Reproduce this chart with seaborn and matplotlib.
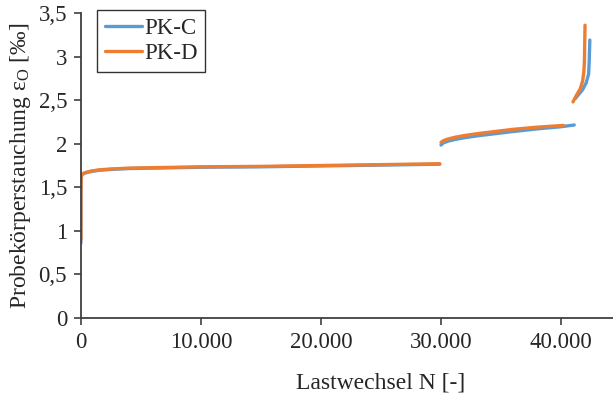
import numpy as np
import pandas as pd
import matplotlib
matplotlib.use("Agg")
import matplotlib.pyplot as plt
import seaborn as sns
from matplotlib.ticker import FuncFormatter

# PK-C, three test stages
c1_n = [0, 0, 20, 50, 100, 200, 400, 800, 1500, 2500, 4000, 6000, 10000, 15000, 20000, 25000, 29900]
c1_eps = [0.86, 1.40, 1.60, 1.63, 1.645, 1.655, 1.665, 1.68, 1.695, 1.705, 1.715, 1.72, 1.73, 1.735, 1.745, 1.755, 1.765]
c2_n = [30000, 30200, 30600, 31200, 32000, 33000, 34500, 36000, 38000, 40000, 41100]
c2_eps = [1.985, 2.01, 2.03, 2.05, 2.07, 2.09, 2.115, 2.14, 2.17, 2.195, 2.215]
c3_n = [41200, 41500, 41800, 42100, 42300, 42350, 42400]
c3_eps = [2.52, 2.57, 2.62, 2.70, 2.80, 2.95, 3.19]

# PK-D
d1_n = [0, 0, 20, 50, 100, 200, 400, 800, 1500, 2500, 4000, 6000, 10000, 15000, 20000, 25000, 29900]
d1_eps = [0.90, 1.42, 1.61, 1.635, 1.65, 1.66, 1.67, 1.685, 1.70, 1.71, 1.72, 1.725, 1.735, 1.74, 1.75, 1.76, 1.77]
d2_n = [30000, 30200, 30600, 31200, 32000, 33000, 34500, 36000, 38000, 40200]
d2_eps = [2.015, 2.035, 2.055, 2.075, 2.095, 2.115, 2.14, 2.165, 2.19, 2.21]
d3_n = [41000, 41300, 41600, 41800, 41900, 41950, 42000]
d3_eps = [2.48, 2.56, 2.63, 2.72, 2.82, 2.95, 3.36]

x_ticks = [0, 10000, 20000, 30000, 40000]
y_ticks = [0, 0.5, 1, 1.5, 2, 2.5, 3, 3.5]

# build one long table, one "stufe" per separate line piece
frames = []
for probe, parts in [("PK-C", [(c1_n, c1_eps), (c2_n, c2_eps), (c3_n, c3_eps)]),
                     ("PK-D", [(d1_n, d1_eps), (d2_n, d2_eps), (d3_n, d3_eps)])]:
    for i, (n, e) in enumerate(parts):
        frames.append(pd.DataFrame({"N": n, "eps": e, "Probe": probe, "stufe": i}))
df = pd.concat(frames, ignore_index=True)

sns.set_style("ticks")
plt.rcParams["font.family"] = ["Liberation Serif", "DejaVu Serif"]
plt.rcParams["mathtext.fontset"] = "custom"
plt.rcParams["mathtext.rm"] = "Liberation Serif"
plt.rcParams["mathtext.it"] = "Liberation Serif:italic"

fig = plt.figure(figsize=(6.13, 3.95), dpi=100)
# the original axis runs on to 50.000, past the right edge of the picture
ax = fig.add_axes([0.132, 0.195, 0.979, 0.772])

sns.lineplot(data=df, x="N", y="eps", hue="Probe", units="stufe", estimator=None,
             palette={"PK-C": "#5B9BD5", "PK-D": "#ED7D31"}, linewidth=2.4,
             sort=False, ax=ax)

ax.set_xlim(0, 50000)
ax.set_ylim(0, 3.5)
ax.set_xticks(x_ticks)
ax.set_yticks(y_ticks)
ax.xaxis.set_major_formatter(FuncFormatter(lambda v, p: f"{int(v):,}".replace(",", ".")))
ax.yaxis.set_major_formatter(FuncFormatter(lambda v, p: f"{v:g}".replace(".", ",")))
ax.tick_params(labelsize=16.5, length=5, width=1.2, color="#404040", pad=5)
for s in ["left", "bottom"]:
    ax.spines[s].set_color("#404040")
    ax.spines[s].set_linewidth(1.3)
sns.despine(ax=ax)

ax.set_xlabel("Lastwechsel N [-]", fontsize=17, labelpad=14)
ax.set_ylabel("Probekörperstauchung ε$_\\mathrm{O}$ [‰]", fontsize=17, labelpad=4)

leg = ax.legend(loc="upper left", bbox_to_anchor=(16 / 600, 1.01), fontsize=16.5, frameon=True,
                fancybox=False, edgecolor="black", handlelength=1.6, handletextpad=0.1,
                borderpad=0.35, labelspacing=0.15, borderaxespad=0)
leg.get_frame().set_linewidth(1.0)
for h in leg.get_lines():
    h.set_linewidth(2.4)

fig.savefig("out.png", dpi=100)
